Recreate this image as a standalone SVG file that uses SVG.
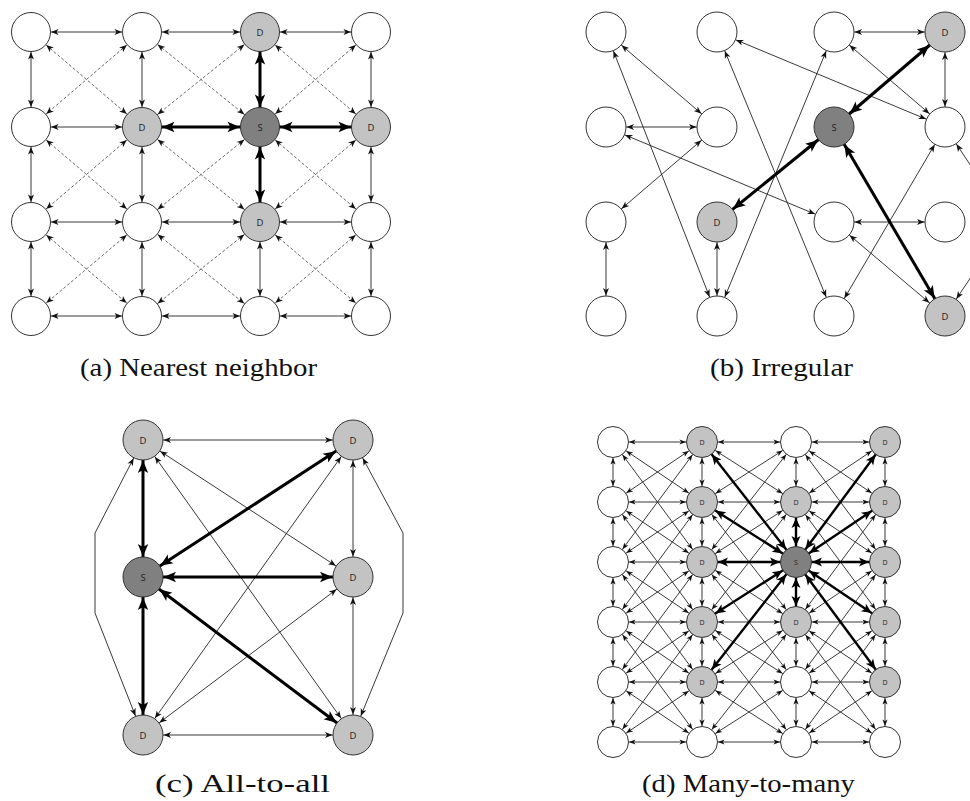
<svg xmlns="http://www.w3.org/2000/svg" width="970" height="801" viewBox="0 0 970 801">
  <style>
    .bg { fill: #ffffff; }
    .thin { stroke: #222; stroke-width: 0.9; fill: none; }
    .dash { stroke: #444; stroke-width: 0.8; stroke-dasharray: 3 2; fill: none; }
    .thick { stroke: #000; stroke-width: 3; fill: none; }
    .thickd { stroke: #000; stroke-width: 2.4; fill: none; }
    .ma { marker-start: url(#ta); marker-end: url(#ta); }
    .mak { marker-start: url(#ka); marker-end: url(#ka); }
    .mb { marker-start: url(#tb); marker-end: url(#tb); }
    .mbk { marker-start: url(#kb); marker-end: url(#kb); }
    .md { marker-start: url(#td); marker-end: url(#td); }
    .mdk { marker-start: url(#kd); marker-end: url(#kd); }
    .n circle { stroke: #333; stroke-width: 1; }
    .w circle { fill: #ffffff; }
    .d circle { fill: #c3c3c3; }
    .s circle { fill: #808080; }
    .n text { font-family: "Open Sans", "DejaVu Sans", sans-serif; font-size: 9.5px; fill: #222; text-anchor: middle; dominant-baseline: central; }
    .sm text { font-size: 7px; }
    .cap { font-family: "Liberation Serif", "DejaVu Serif", serif; font-size: 25px; fill: #111; text-anchor: middle; }
  </style>
  <defs>
    <!-- arrowheads: tip at x=0, refX pulls the tip back to the node rim -->
    <marker id="ta" markerUnits="userSpaceOnUse" orient="auto-start-reverse" refX="20" refY="0" markerWidth="10" markerHeight="10" overflow="visible">
      <path d="M0,0 L-7.5,-3 L-5.5,0 L-7.5,3 Z" fill="#111"/>
    </marker>
    <marker id="ka" markerUnits="userSpaceOnUse" orient="auto-start-reverse" refX="20" refY="0" markerWidth="10" markerHeight="10" overflow="visible">
      <path d="M0,0 L-12.5,-5.2 L-9.5,0 L-12.5,5.2 Z" fill="#000"/>
    </marker>
    <marker id="tb" markerUnits="userSpaceOnUse" orient="auto-start-reverse" refX="20.5" refY="0" markerWidth="10" markerHeight="10" overflow="visible">
      <path d="M0,0 L-7.5,-3 L-5.5,0 L-7.5,3 Z" fill="#111"/>
    </marker>
    <marker id="kb" markerUnits="userSpaceOnUse" orient="auto-start-reverse" refX="20.5" refY="0" markerWidth="10" markerHeight="10" overflow="visible">
      <path d="M0,0 L-12.5,-5.2 L-9.5,0 L-12.5,5.2 Z" fill="#000"/>
    </marker>
    <marker id="td" markerUnits="userSpaceOnUse" orient="auto-start-reverse" refX="16" refY="0" markerWidth="10" markerHeight="10" overflow="visible">
      <path d="M0,0 L-6.5,-2.6 L-4.8,0 L-6.5,2.6 Z" fill="#111"/>
    </marker>
    <marker id="kd" markerUnits="userSpaceOnUse" orient="auto-start-reverse" refX="16" refY="0" markerWidth="10" markerHeight="10" overflow="visible">
      <path d="M0,0 L-10,-4.5 L-7.5,0 L-10,4.5 Z" fill="#000"/>
    </marker>
  </defs>
  <rect class="bg" x="0" y="0" width="970" height="801"/>

  <!-- (a) nearest neighbour grid -->
  <g id="connectors-a">
    <g class="thin ma">
      <line x1="31" y1="32" x2="142" y2="32"/><line x1="142" y1="32" x2="260" y2="32"/><line x1="260" y1="32" x2="371" y2="32"/>
      <line x1="31" y1="127" x2="142" y2="127"/>
      <line x1="31" y1="222" x2="142" y2="222"/><line x1="142" y1="222" x2="260" y2="222"/><line x1="260" y1="222" x2="371" y2="222"/>
      <line x1="31" y1="316" x2="142" y2="316"/><line x1="142" y1="316" x2="260" y2="316"/><line x1="260" y1="316" x2="371" y2="316"/>
      <line x1="31" y1="32" x2="31" y2="127"/><line x1="31" y1="127" x2="31" y2="222"/><line x1="31" y1="222" x2="31" y2="316"/>
      <line x1="142" y1="32" x2="142" y2="127"/><line x1="142" y1="127" x2="142" y2="222"/><line x1="142" y1="222" x2="142" y2="316"/>
      <line x1="260" y1="222" x2="260" y2="316"/>
      <line x1="371" y1="32" x2="371" y2="127"/><line x1="371" y1="127" x2="371" y2="222"/><line x1="371" y1="222" x2="371" y2="316"/>
    </g>
    <g class="dash ma">
      <line x1="31" y1="32" x2="142" y2="127"/><line x1="142" y1="32" x2="31" y2="127"/>
      <line x1="142" y1="32" x2="260" y2="127"/><line x1="260" y1="32" x2="142" y2="127"/>
      <line x1="260" y1="32" x2="371" y2="127"/><line x1="371" y1="32" x2="260" y2="127"/>
      <line x1="31" y1="127" x2="142" y2="222"/><line x1="142" y1="127" x2="31" y2="222"/>
      <line x1="142" y1="127" x2="260" y2="222"/><line x1="260" y1="127" x2="142" y2="222"/>
      <line x1="260" y1="127" x2="371" y2="222"/><line x1="371" y1="127" x2="260" y2="222"/>
      <line x1="31" y1="222" x2="142" y2="316"/><line x1="142" y1="222" x2="31" y2="316"/>
      <line x1="142" y1="222" x2="260" y2="316"/><line x1="260" y1="222" x2="142" y2="316"/>
      <line x1="260" y1="222" x2="371" y2="316"/><line x1="371" y1="222" x2="260" y2="316"/>
    </g>
    <g class="thick mak">
      <line x1="142" y1="127" x2="260" y2="127"/><line x1="260" y1="127" x2="371" y2="127"/>
      <line x1="260" y1="32" x2="260" y2="127"/><line x1="260" y1="127" x2="260" y2="222"/>
    </g>
  </g>
  <g id="nodes-a">
    <g id="a00" class="n w"><circle cx="31" cy="32" r="19.5"/></g>
    <g id="a10" class="n w"><circle cx="142" cy="32" r="19.5"/></g>
    <g id="a20" class="n d"><circle cx="260" cy="32" r="19.5"/><text x="260" y="32">D</text></g>
    <g id="a30" class="n w"><circle cx="371" cy="32" r="19.5"/></g>
    <g id="a01" class="n w"><circle cx="31" cy="127" r="19.5"/></g>
    <g id="a11" class="n d"><circle cx="142" cy="127" r="19.5"/><text x="142" y="127">D</text></g>
    <g id="a21" class="n s"><circle cx="260" cy="127" r="19.5"/><text x="260" y="127">S</text></g>
    <g id="a31" class="n d"><circle cx="371" cy="127" r="19.5"/><text x="371" y="127">D</text></g>
    <g id="a02" class="n w"><circle cx="31" cy="222" r="19.5"/></g>
    <g id="a12" class="n w"><circle cx="142" cy="222" r="19.5"/></g>
    <g id="a22" class="n d"><circle cx="260" cy="222" r="19.5"/><text x="260" y="222">D</text></g>
    <g id="a32" class="n w"><circle cx="371" cy="222" r="19.5"/></g>
    <g id="a03" class="n w"><circle cx="31" cy="316" r="19.5"/></g>
    <g id="a13" class="n w"><circle cx="142" cy="316" r="19.5"/></g>
    <g id="a23" class="n w"><circle cx="260" cy="316" r="19.5"/></g>
    <g id="a33" class="n w"><circle cx="371" cy="316" r="19.5"/></g>
  </g>
  <text class="cap" x="198.5" y="376" textLength="237" lengthAdjust="spacingAndGlyphs">(a) Nearest neighbor</text>

  <!-- (b) irregular -->
  <g id="connectors-b">
    <g class="thin mb">
      <line x1="834" y1="32" x2="945" y2="32"/>
      <line x1="945" y1="32" x2="945" y2="127"/>
      <line x1="834" y1="32" x2="945" y2="127"/>
      <line x1="717" y1="32" x2="945" y2="127"/>
      <line x1="606" y1="32" x2="717" y2="127"/>
      <line x1="606" y1="32" x2="717" y2="316"/>
      <line x1="717" y1="32" x2="834" y2="316"/>
      <line x1="834" y1="32" x2="717" y2="316"/>
      <line x1="606" y1="127" x2="717" y2="127"/>
      <line x1="606" y1="127" x2="834" y2="222"/>
      <line x1="717" y1="127" x2="606" y2="222"/>
      <line x1="606" y1="222" x2="606" y2="316"/>
      <line x1="717" y1="222" x2="717" y2="316"/>
      <line x1="834" y1="222" x2="945" y2="222"/>
      <line x1="834" y1="222" x2="945" y2="316"/>
      <line x1="945" y1="127" x2="834" y2="316"/>
      <polyline points="945,127 985,187 985,256 945,316"/>
    </g>
    <g class="thick mbk">
      <line x1="945" y1="32" x2="834" y2="127"/>
      <line x1="834" y1="127" x2="717" y2="222"/>
      <line x1="834" y1="127" x2="945" y2="316"/>
    </g>
  </g>
  <g id="nodes-b">
    <g id="b00" class="n w"><circle cx="606" cy="32" r="20"/></g>
    <g id="b10" class="n w"><circle cx="717" cy="32" r="20"/></g>
    <g id="b20" class="n w"><circle cx="834" cy="32" r="20"/></g>
    <g id="b30" class="n d"><circle cx="945" cy="32" r="20"/><text x="945" y="32">D</text></g>
    <g id="b01" class="n w"><circle cx="606" cy="127" r="20"/></g>
    <g id="b11" class="n w"><circle cx="717" cy="127" r="20"/></g>
    <g id="b21" class="n s"><circle cx="834" cy="127" r="20"/><text x="834" y="127">S</text></g>
    <g id="b31" class="n w"><circle cx="945" cy="127" r="20"/></g>
    <g id="b02" class="n w"><circle cx="606" cy="222" r="20"/></g>
    <g id="b12" class="n d"><circle cx="717" cy="222" r="20"/><text x="717" y="222">D</text></g>
    <g id="b22" class="n w"><circle cx="834" cy="222" r="20"/></g>
    <g id="b32" class="n w"><circle cx="945" cy="222" r="20"/></g>
    <g id="b03" class="n w"><circle cx="606" cy="316" r="20"/></g>
    <g id="b13" class="n w"><circle cx="717" cy="316" r="20"/></g>
    <g id="b23" class="n w"><circle cx="834" cy="316" r="20"/></g>
    <g id="b33" class="n d"><circle cx="945" cy="316" r="20"/><text x="945" y="316">D</text></g>
  </g>
  <text class="cap" x="781.5" y="376" textLength="143" lengthAdjust="spacingAndGlyphs">(b) Irregular</text>

  <!-- (c) all-to-all -->
  <g id="connectors-c">
    <g class="thin mb">
      <line x1="143" y1="440" x2="353" y2="440"/>
      <line x1="143" y1="440" x2="353" y2="577"/>
      <line x1="143" y1="440" x2="353" y2="735"/>
      <line x1="353" y1="440" x2="353" y2="577"/>
      <line x1="353" y1="440" x2="143" y2="735"/>
      <line x1="353" y1="577" x2="143" y2="735"/>
      <line x1="353" y1="577" x2="353" y2="735"/>
      <line x1="143" y1="735" x2="353" y2="735"/>
      <polyline points="143,440 95,533 95,613 143,735"/>
      <polyline points="353,440 403,533 403,613 353,735"/>
    </g>
    <g class="thick mbk">
      <line x1="143" y1="577" x2="143" y2="440"/>
      <line x1="143" y1="577" x2="353" y2="440"/>
      <line x1="143" y1="577" x2="353" y2="577"/>
      <line x1="143" y1="577" x2="143" y2="735"/>
      <line x1="143" y1="577" x2="353" y2="735"/>
    </g>
  </g>
  <g id="nodes-c">
    <g id="c-tl" class="n d"><circle cx="143" cy="440" r="20"/><text x="143" y="440">D</text></g>
    <g id="c-tr" class="n d"><circle cx="353" cy="440" r="20"/><text x="353" y="440">D</text></g>
    <g id="c-s" class="n s"><circle cx="143" cy="577" r="20"/><text x="143" y="577">S</text></g>
    <g id="c-mr" class="n d"><circle cx="353" cy="577" r="20"/><text x="353" y="577">D</text></g>
    <g id="c-bl" class="n d"><circle cx="143" cy="735" r="20"/><text x="143" y="735">D</text></g>
    <g id="c-br" class="n d"><circle cx="353" cy="735" r="20"/><text x="353" y="735">D</text></g>
  </g>
  <text class="cap" x="242.5" y="792" textLength="175" lengthAdjust="spacingAndGlyphs">(c) All-to-all</text>

  <!-- (d) many-to-many -->
  <g id="connectors-d">
    <g class="thin md">
      <!-- horizontal -->
      <line x1="613" y1="442" x2="702" y2="442"/><line x1="702" y1="442" x2="796" y2="442"/><line x1="796" y1="442" x2="885" y2="442"/>
      <line x1="613" y1="502" x2="702" y2="502"/><line x1="702" y1="502" x2="796" y2="502"/><line x1="796" y1="502" x2="885" y2="502"/>
      <line x1="613" y1="562" x2="702" y2="562"/>
      <line x1="613" y1="622" x2="702" y2="622"/><line x1="702" y1="622" x2="796" y2="622"/><line x1="796" y1="622" x2="885" y2="622"/>
      <line x1="613" y1="682" x2="702" y2="682"/><line x1="702" y1="682" x2="796" y2="682"/><line x1="796" y1="682" x2="885" y2="682"/>
      <line x1="613" y1="742" x2="702" y2="742"/><line x1="702" y1="742" x2="796" y2="742"/><line x1="796" y1="742" x2="885" y2="742"/>
      <!-- vertical -->
      <line x1="613" y1="442" x2="613" y2="502"/><line x1="613" y1="502" x2="613" y2="562"/><line x1="613" y1="562" x2="613" y2="622"/><line x1="613" y1="622" x2="613" y2="682"/><line x1="613" y1="682" x2="613" y2="742"/>
      <line x1="702" y1="442" x2="702" y2="502"/><line x1="702" y1="502" x2="702" y2="562"/><line x1="702" y1="562" x2="702" y2="622"/><line x1="702" y1="622" x2="702" y2="682"/><line x1="702" y1="682" x2="702" y2="742"/>
      <line x1="796" y1="442" x2="796" y2="502"/><line x1="796" y1="622" x2="796" y2="682"/><line x1="796" y1="682" x2="796" y2="742"/>
      <line x1="885" y1="442" x2="885" y2="502"/><line x1="885" y1="502" x2="885" y2="562"/><line x1="885" y1="562" x2="885" y2="622"/><line x1="885" y1="622" x2="885" y2="682"/><line x1="885" y1="682" x2="885" y2="742"/>
      <!-- one-row diagonals -->
      <line x1="613" y1="442" x2="702" y2="502"/><line x1="702" y1="442" x2="613" y2="502"/>
      <line x1="613" y1="502" x2="702" y2="562"/><line x1="702" y1="502" x2="613" y2="562"/>
      <line x1="613" y1="562" x2="702" y2="622"/><line x1="702" y1="562" x2="613" y2="622"/>
      <line x1="613" y1="622" x2="702" y2="682"/><line x1="702" y1="622" x2="613" y2="682"/>
      <line x1="613" y1="682" x2="702" y2="742"/><line x1="702" y1="682" x2="613" y2="742"/>
      <line x1="702" y1="442" x2="796" y2="502"/><line x1="796" y1="442" x2="702" y2="502"/>
      <line x1="796" y1="502" x2="702" y2="562"/>
      <line x1="702" y1="562" x2="796" y2="622"/>
      <line x1="702" y1="622" x2="796" y2="682"/><line x1="796" y1="622" x2="702" y2="682"/>
      <line x1="702" y1="682" x2="796" y2="742"/><line x1="796" y1="682" x2="702" y2="742"/>
      <line x1="796" y1="442" x2="885" y2="502"/><line x1="885" y1="442" x2="796" y2="502"/>
      <line x1="796" y1="502" x2="885" y2="562"/>
      <line x1="885" y1="562" x2="796" y2="622"/>
      <line x1="796" y1="622" x2="885" y2="682"/><line x1="885" y1="622" x2="796" y2="682"/>
      <line x1="796" y1="682" x2="885" y2="742"/><line x1="885" y1="682" x2="796" y2="742"/>
      <!-- two-row diagonals -->
      <line x1="613" y1="442" x2="702" y2="562"/><line x1="702" y1="442" x2="613" y2="562"/>
      <line x1="613" y1="502" x2="702" y2="622"/><line x1="702" y1="502" x2="613" y2="622"/>
      <line x1="613" y1="562" x2="702" y2="682"/><line x1="702" y1="562" x2="613" y2="682"/>
      <line x1="613" y1="622" x2="702" y2="742"/><line x1="702" y1="622" x2="613" y2="742"/>
      <line x1="796" y1="442" x2="702" y2="562"/>
      <line x1="702" y1="502" x2="796" y2="622"/><line x1="796" y1="502" x2="702" y2="622"/>
      <line x1="702" y1="562" x2="796" y2="682"/>
      <line x1="702" y1="622" x2="796" y2="742"/><line x1="796" y1="622" x2="702" y2="742"/>
      <line x1="796" y1="442" x2="885" y2="562"/>
      <line x1="796" y1="502" x2="885" y2="622"/><line x1="885" y1="502" x2="796" y2="622"/>
      <line x1="885" y1="562" x2="796" y2="682"/>
      <line x1="796" y1="622" x2="885" y2="742"/><line x1="885" y1="622" x2="796" y2="742"/>
    </g>
    <g class="thickd mdk">
      <line x1="796" y1="562" x2="702" y2="562"/><line x1="796" y1="562" x2="885" y2="562"/>
      <line x1="796" y1="562" x2="796" y2="502"/><line x1="796" y1="562" x2="796" y2="622"/>
      <line x1="796" y1="562" x2="702" y2="502"/><line x1="796" y1="562" x2="885" y2="622"/>
      <line x1="796" y1="562" x2="885" y2="502"/><line x1="796" y1="562" x2="702" y2="622"/>
      <line x1="796" y1="562" x2="702" y2="442"/><line x1="796" y1="562" x2="885" y2="682"/>
      <line x1="796" y1="562" x2="885" y2="442"/><line x1="796" y1="562" x2="702" y2="682"/>
    </g>
  </g>
  <g id="nodes-d">
    <g id="d00" class="n sm w"><circle cx="613" cy="442" r="15.5"/></g>
    <g id="d10" class="n sm d"><circle cx="702" cy="442" r="15.5"/><text x="702" y="442">D</text></g>
    <g id="d20" class="n sm w"><circle cx="796" cy="442" r="15.5"/></g>
    <g id="d30" class="n sm d"><circle cx="885" cy="442" r="15.5"/><text x="885" y="442">D</text></g>
    <g id="d01" class="n sm w"><circle cx="613" cy="502" r="15.5"/></g>
    <g id="d11" class="n sm d"><circle cx="702" cy="502" r="15.5"/><text x="702" y="502">D</text></g>
    <g id="d21" class="n sm d"><circle cx="796" cy="502" r="15.5"/><text x="796" y="502">D</text></g>
    <g id="d31" class="n sm d"><circle cx="885" cy="502" r="15.5"/><text x="885" y="502">D</text></g>
    <g id="d02" class="n sm w"><circle cx="613" cy="562" r="15.5"/></g>
    <g id="d12" class="n sm d"><circle cx="702" cy="562" r="15.5"/><text x="702" y="562">D</text></g>
    <g id="d22" class="n sm s"><circle cx="796" cy="562" r="15.5"/><text x="796" y="562">S</text></g>
    <g id="d32" class="n sm d"><circle cx="885" cy="562" r="15.5"/><text x="885" y="562">D</text></g>
    <g id="d03" class="n sm w"><circle cx="613" cy="622" r="15.5"/></g>
    <g id="d13" class="n sm d"><circle cx="702" cy="622" r="15.5"/><text x="702" y="622">D</text></g>
    <g id="d23" class="n sm d"><circle cx="796" cy="622" r="15.5"/><text x="796" y="622">D</text></g>
    <g id="d33" class="n sm d"><circle cx="885" cy="622" r="15.5"/><text x="885" y="622">D</text></g>
    <g id="d04" class="n sm w"><circle cx="613" cy="682" r="15.5"/></g>
    <g id="d14" class="n sm d"><circle cx="702" cy="682" r="15.5"/><text x="702" y="682">D</text></g>
    <g id="d24" class="n sm w"><circle cx="796" cy="682" r="15.5"/></g>
    <g id="d34" class="n sm d"><circle cx="885" cy="682" r="15.5"/><text x="885" y="682">D</text></g>
    <g id="d05" class="n sm w"><circle cx="613" cy="742" r="15.5"/></g>
    <g id="d15" class="n sm w"><circle cx="702" cy="742" r="15.5"/></g>
    <g id="d25" class="n sm w"><circle cx="796" cy="742" r="15.5"/></g>
    <g id="d35" class="n sm w"><circle cx="885" cy="742" r="15.5"/></g>
  </g>
  <text class="cap" x="748.5" y="792" textLength="213" lengthAdjust="spacingAndGlyphs">(d) Many-to-many</text>
</svg>
